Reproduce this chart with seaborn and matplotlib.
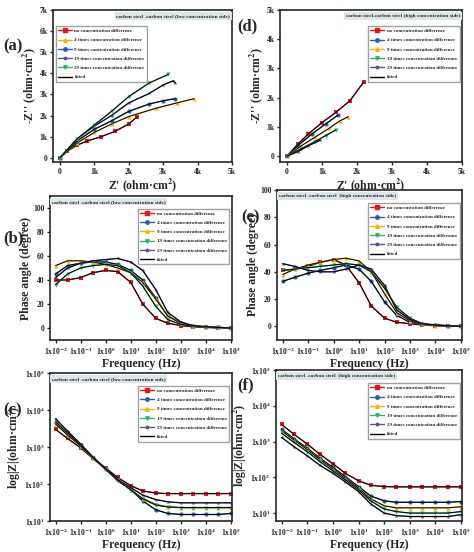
import numpy as np
import matplotlib
matplotlib.use("Agg")
import matplotlib.pyplot as plt
import seaborn as sns
from matplotlib.lines import Line2D

sns.set_style("ticks")
plt.rcParams['font.family'] = ['Liberation Serif', 'DejaVu Serif']
plt.rcParams['font.weight'] = 'bold'
plt.rcParams['mathtext.fontset'] = 'stix'

labels = ["no concentration difference", "4 times concentration difference",
          "9 times concentration difference", "19 times concentration difference",
          "29 times concentration difference"]
RED, BLUE, YEL, GRN, PUR = "#e8141c", "#2b5ea8", "#f2b400", "#2fb36a", "#5a4f9c"

# Panel (a): Nyquist, low concentration side (k ohm cm2)
a_zr = [[0, 0.2, 0.5, 0.8, 1.2, 1.6, 2.0, 2.25],
        [0, 0.5, 1.0, 1.5, 2.0, 2.8, 3.4, 3.9],
        [0, 0.5, 1.0, 1.5, 2.0, 2.6, 3.0, 3.35],
        [0, 0.5, 1.0, 1.5, 2.0, 2.6, 3.0, 3.3, 3.35],
        [0, 0.5, 1.0, 1.5, 2.0, 2.6, 3.15]]
a_zi = [[0, 0.3, 0.6, 0.8, 1.0, 1.25, 1.6, 1.95],
        [0, 0.7, 1.2, 1.6, 1.95, 2.35, 2.6, 2.8],
        [0, 0.8, 1.35, 1.75, 2.2, 2.55, 2.7, 2.8],
        [0, 0.9, 1.5, 2.0, 2.6, 3.05, 3.45, 3.65, 3.55],
        [0, 0.9, 1.55, 2.2, 2.9, 3.55, 3.95]]
# Panel (d): Nyquist, high concentration side
d_zr = [[0, 0.3, 0.6, 1.0, 1.4, 1.8, 2.2],
        [0, 0.3, 0.7, 1.1, 1.45],
        [0, 0.4, 0.8, 1.2, 1.5, 1.75],
        [0, 0.4, 0.8, 1.1, 1.4],
        [0, 0.3, 0.6, 0.95]]
d_zi = [[0, 0.4, 0.75, 1.15, 1.5, 1.9, 2.55],
        [0, 0.35, 0.75, 1.1, 1.4],
        [0, 0.35, 0.65, 0.95, 1.2, 1.35],
        [0, 0.25, 0.5, 0.7, 0.9],
        [0, 0.15, 0.35, 0.55]]

freq = [1e-2, 3e-2, 1e-1, 3e-1, 1e0, 3e0, 1e1, 3e1, 1e2, 3e2, 1e3, 3e3, 1e4, 3e4, 1e5]
b_phase = [[40, 40, 42, 46, 48, 47, 38, 20, 8, 4, 2, 1, 0.5, 0, 0],
           [45, 52, 54, 55, 55, 53, 48, 40, 25, 10, 4, 2, 1, 0.5, 0],
           [52, 56, 56, 55, 53, 50, 46, 38, 24, 10, 4, 2, 1, 0.5, 0],
           [36, 45, 50, 52, 53, 52, 46, 35, 18, 7, 3, 1.5, 1, 0.5, 0],
           [42, 50, 54, 56, 57, 58, 55, 48, 32, 13, 5, 2, 1, 0.5, 0]]
e_phase = [[41, 42, 44, 47, 49, 45, 32, 15, 6, 3, 2, 1, 0.5, 0, 0],
           [33, 36, 39, 41, 43, 45, 42, 33, 18, 8, 3, 1.5, 1, 0.5, 0],
           [38, 42, 45, 47, 49, 50, 48, 40, 24, 10, 4, 1.5, 0.5, 0, 0],
           [41, 42, 43, 44, 45, 46, 45, 40, 28, 14, 6, 2, 1, 0.5, 0],
           [46, 44, 41, 40, 40, 42, 45, 42, 30, 12, 5, 2, 1, 0.5, 0]]
c_mod = [[3000, 1700, 950, 500, 270, 150, 90, 65, 57, 55, 55, 55, 55, 55, 55],
         [4500, 2300, 1100, 520, 250, 125, 70, 35, 20, 16, 15, 15, 15, 15, 16],
         [4200, 2100, 1050, 500, 250, 125, 70, 40, 28, 24, 23, 23, 23, 23, 23],
         [4800, 2400, 1100, 520, 250, 125, 70, 40, 27, 24, 23, 23, 23, 23, 23],
         [5800, 2700, 1200, 550, 260, 130, 80, 50, 38, 33, 31, 31, 31, 31, 31]]
f_mod = [[3000, 1600, 850, 450, 240, 130, 80, 60, 55, 54, 54, 54, 54, 54, 54],
         [2200, 1200, 650, 350, 190, 105, 55, 30, 22, 20, 20, 20, 20, 20, 21],
         [2000, 1100, 600, 320, 170, 95, 50, 25, 16, 14, 14, 14, 14, 14, 15],
         [1700, 950, 520, 280, 150, 85, 45, 22, 13, 11, 10, 10, 10, 10, 11],
         [1300, 720, 400, 220, 130, 75, 40, 18, 10, 8.5, 8, 8, 8, 8, 9]]

std_col = [RED, BLUE, YEL, GRN, PUR]
std_mk = ['s', 'o', '^', 'v', '*']
a_col = [RED, YEL, BLUE, PUR, GRN]
a_mk = ['s', '^', 'o', '*', 'v']

W, H = 474, 552
fig = plt.figure(figsize=(W / 100, H / 100), dpi=100)

def ax_px(x0, y0, x1, y1):
    return fig.add_axes([x0 / W, 1 - y1 / H, (x1 - x0) / W, (y1 - y0) / H])

def draw(ax, xs, ys, cols, mks, ms=3):
    for x, y, c, m in zip(xs, ys, cols, mks):
        sns.lineplot(x=x, y=y, ax=ax, color=c, marker=m, markersize=ms,
                     markeredgewidth=0, lw=1.0, sort=False, estimator=None)
        sns.lineplot(x=x, y=y, ax=ax, color='black', lw=0.7, sort=False, estimator=None)

def legend(ax, cols, mks, loc='upper right', anchor=(1, 0.9)):
    hs = [Line2D([], [], color=c, marker=m, markersize=2.5, lw=1) for c, m in zip(cols, mks)]
    hs.append(Line2D([], [], color='black', lw=1))
    ax.legend(hs, labels + ['fitted'], loc=loc, bbox_to_anchor=anchor, fontsize=3.6,
              frameon=True, fancybox=False, edgecolor='#888888', handlelength=2.8,
              labelspacing=0.95, borderpad=0.5, handletextpad=0.5)

def box(ax, txt, ha='left'):
    x = 0.01 if ha == 'left' else 0.99
    ax.text(x, 0.975, txt, transform=ax.transAxes, fontsize=3.8, va='top', ha=ha,
            bbox=dict(boxstyle='square,pad=0.35', fc='#dbe6e8', ec='none'))

def style(ax, letter, lx, ly):
    for s in ax.spines.values():
        s.set_linewidth(1.2)
    ax.tick_params(labelsize=5.5, width=1, length=2.5, pad=1.5)
    fig.text(lx / W, 1 - ly / H, letter, fontsize=12, fontweight='bold', va='center', ha='left')

kt = [0, 1, 2, 3, 4, 5, 6, 7]
kl = ['0'] + [f'{k}k' for k in kt[1:]]
ZR = "Z' (ohm·cm$^2$)"
ZI = "-$\\mathbf{\\it{Z}}$'' (ohm·cm$^2$)"

# (a)
ax = ax_px(53, 10, 232, 162)
draw(ax, a_zr, a_zi, a_col, a_mk)
ax.set_xlim(-0.2, 5); ax.set_ylim(-0.2, 7)
ax.set_xticks(kt[:6]); ax.set_xticklabels(kl[:6])
ax.set_yticks(kt); ax.set_yticklabels(kl)
ax.set_xlabel(ZR, fontsize=8.5, fontweight='bold', labelpad=1)
ax.set_ylabel("-Z'' (ohm·cm$^2$)", fontsize=8.5, fontweight='bold', labelpad=1)
legend(ax, a_col, a_mk, loc='upper left', anchor=(0.0, 0.91))
box(ax, "carbon steel -carbon steel (low concentration side)", 'right')
style(ax, '(a)', 3, 46)

# (d)
ax = ax_px(280, 10, 462, 162)
draw(ax, d_zr, d_zi, std_col, std_mk)
ax.set_xlim(-0.2, 5); ax.set_ylim(-0.2, 5)
ax.set_xticks(kt[:6]); ax.set_xticklabels(kl[:6])
ax.set_yticks(kt[:6]); ax.set_yticklabels(kl[:6])
ax.set_xlabel(ZR, fontsize=8.5, fontweight='bold', labelpad=1)
ax.set_ylabel("-Z'' (ohm·cm$^2$)", fontsize=8.5, fontweight='bold', labelpad=1)
legend(ax, std_col, std_mk, anchor=(1, 0.91))
box(ax, "carbon steel-carbon steel (high concentration side)", 'right')
style(ax, '(d)', 237, 26)

ftk = [1e-2, 1e-1, 1e0, 1e1, 1e2, 1e3, 1e4, 1e5]
ftl = [f'1x10$^{{{e}}}$' for e in range(-2, 6)]

def freq_axis(ax):
    ax.set_xscale('log')
    ax.set_xlim(6e-3, 1.1e5)
    ax.set_xticks(ftk); ax.set_xticklabels(ftl)
    ax.minorticks_off()
    ax.set_xlabel("Frequency (Hz)", fontsize=8.5, fontweight='bold', labelpad=1)

# (b)
ax = ax_px(50, 196, 232, 340)
draw(ax, [freq] * 5, b_phase, std_col, std_mk)
freq_axis(ax)
ax.set_ylim(-10, 110); ax.set_yticks([0, 20, 40, 60, 80, 100])
ax.set_ylabel("Phase angle (degree)", fontsize=8.5, fontweight='bold', labelpad=1)
legend(ax, std_col, std_mk, anchor=(1, 0.93))
box(ax, "carbon steel -carbon steel (low concentration side)")
style(ax, '(b)', 3, 238)

# (e)
ax = ax_px(277, 190, 462, 340)
draw(ax, [freq] * 5, e_phase, std_col, std_mk)
freq_axis(ax)
ax.set_ylim(-10, 100); ax.set_yticks([0, 20, 40, 60, 80, 100])
ax.set_ylabel("Phase angle (degree)", fontsize=8.5, fontweight='bold', labelpad=1)
legend(ax, std_col, std_mk, anchor=(1, 0.93))
box(ax, "carbon steel -carbon steel  (high concentration side)")
style(ax, '(e)', 241, 217)

ytk = [1e1, 1e2, 1e3, 1e4, 1e5]
ytl = [f'1x10$^{{{e}}}$' for e in range(1, 6)]

# (c)
ax = ax_px(50, 373, 232, 521)
draw(ax, [freq] * 5, c_mod, std_col, std_mk)
freq_axis(ax)
ax.set_yscale('log'); ax.set_ylim(1e1, 1e5)
ax.set_yticks(ytk); ax.set_yticklabels(ytl); ax.minorticks_off()
ax.set_ylabel("log|Z|(ohm·cm$^2$)", fontsize=8.5, fontweight='bold', labelpad=1)
legend(ax, std_col, std_mk, anchor=(1, 0.93))
box(ax, "carbon steel -carbon steel (low concentration side)")
style(ax, '(c)', 3, 410)

# (f)
ax = ax_px(276, 370, 462, 521)
draw(ax, [freq] * 5, f_mod, std_col, std_mk)
freq_axis(ax)
ax.set_yscale('log'); ax.set_ylim(6, 1e5)
ax.set_yticks(ytk); ax.set_yticklabels(ytl); ax.minorticks_off()
ax.set_ylabel("log|Z|(ohm·cm$^2$)", fontsize=8.5, fontweight='bold', labelpad=1)
legend(ax, std_col, std_mk, anchor=(1, 0.93))
box(ax, "carbon steel -carbon steel  (high concentration side)")
style(ax, '(f)', 237, 385)

fig.savefig("out.png", dpi=100)
